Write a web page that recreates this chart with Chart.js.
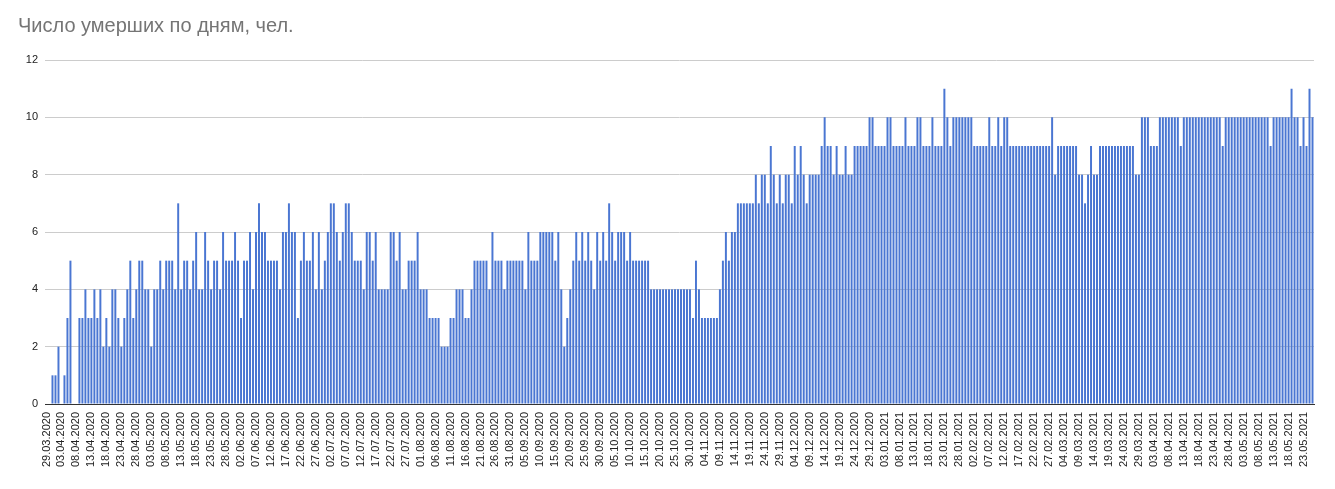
<!DOCTYPE html>
<html>
<head>
<meta charset="utf-8">
<script src="https://cdn.jsdelivr.net/npm/chart.js@4.4.1/dist/chart.umd.min.js"></script>
<style>
  html, body { margin: 0; padding: 0; background: #fff; }
  #wrap { position: relative; width: 1335px; height: 489px; }
  #chartCanvas { position: absolute; left: 0; top: 0; }
  #title {
    position: absolute; left: 18px; top: 15px;
    font: 20px "Liberation Sans", Arial, sans-serif; line-height: 20px;
    color: #757575; white-space: nowrap;
  }
</style>
</head>
<body>
<div id="wrap">
  <canvas id="chartCanvas" width="1335" height="489"></canvas>
  <div id="title">Число умерших по дням, чел.</div>
</div>
<script>
// first day of the series: 29.03.2020
const startDate = new Date(2020, 2, 29);

// deaths per day
const deaths = [
  0, 0,                                                                  // 29.03 - 30.03
  1, 1, 2, 0, 1, 3, 5, 0, 0, 3, 3, 4, 3, 3, 4, 3, 4, 2, 3, 2,            // 31.03 -
  4, 4, 3, 2, 3, 4, 5, 3, 4, 5, 5, 4, 4, 2, 4, 4,                        // - 05.05
  5, 4, 5, 5, 5, 4, 7, 4, 5, 5, 4, 5, 6, 4, 4, 6, 5, 4, 5, 5,            // 06.05 -
  4, 6, 5, 5, 5, 6, 5, 3, 5, 5, 6, 4, 6, 7, 6, 6, 5, 5, 5,               // - 13.06
  5, 4, 6, 6, 7, 6, 6, 3, 5, 6, 5, 5, 6, 4, 6, 4, 5, 6, 7, 7,            // 14.06 -
  6, 5, 6, 7, 7, 6, 5, 5, 5, 4, 6, 6, 5, 6, 4, 4, 4, 4, 6,               // - 22.07
  6, 5, 6, 4, 4, 5, 5, 5, 6, 4, 4, 4, 3, 3, 3, 3, 2, 2, 2, 3,            // 23.07 -
  3, 4, 4, 4, 3, 3, 4, 5, 5, 5, 5, 5, 4, 6, 5, 5, 5, 4, 5,               // - 30.08
  5, 5, 5, 5, 5, 4, 6, 5, 5, 5, 6, 6, 6, 6, 6, 5, 6, 4, 2, 3,            // 31.08 -
  4, 5, 6, 5, 6, 5, 6, 5, 4, 6, 5, 6, 5, 7, 6, 5, 6, 6, 6,               // - 08.10
  5, 6, 5, 5, 5, 5, 5, 5, 4, 4, 4, 4, 4, 4, 4, 4, 4, 4, 4, 4,            // 09.10 -
  4, 4, 3, 5, 4, 3, 3, 3, 3, 3, 3, 4, 5, 6, 5, 6, 6, 7, 7,               // - 16.11
  7, 7, 7, 7, 8, 7, 8, 8, 7, 9, 8, 7, 8, 7, 8, 8, 7, 9, 8, 9,            // 17.11 -
  8, 7, 8, 8, 8, 8, 9, 10, 9, 9, 8, 9, 8, 8, 9, 8, 8, 9, 9,              // - 25.12
  9, 9, 9, 10, 10, 9, 9, 9, 9, 10, 10, 9, 9, 9, 9, 10, 9, 9, 9, 10,      // 26.12 -
  10, 9, 9, 9, 10, 9, 9, 9, 11, 10, 9, 10, 10, 10, 10, 10, 10, 10, 9,    // - 02.02
  9, 9, 9, 9, 10, 9, 9, 10, 9, 10, 10, 9, 9, 9, 9, 9, 9, 9, 9, 9,        // 03.02 -
  9, 9, 9, 9, 9, 10, 8, 9, 9, 9, 9, 9, 9, 9, 8, 8, 7, 8, 9,              // - 13.03
  8, 8, 9, 9, 9, 9, 9, 9, 9, 9, 9, 9, 9, 9, 8, 8, 10, 10, 10, 9,         // 14.03 -
  9, 9, 10, 10, 10, 10, 10, 10, 10, 9, 10, 10, 10, 10, 10, 10, 10, 10, 10, // - 21.04
  10, 10, 10, 10, 9, 10, 10, 10, 10, 10, 10, 10, 10, 10, 10, 10, 10, 10,  // 22.04 -
  10, 10, 9, 10, 10, 10, 10, 10, 10, 11, 10, 10, 9, 10, 9, 11, 10         // - 26.05
];

const yTicks = [0, 2, 4, 6, 8, 10, 12];
const labelEvery = 5; // a date is written under every fifth bar

function fmt(d) {
  const dd = String(d.getDate()).padStart(2, "0");
  const mm = String(d.getMonth() + 1).padStart(2, "0");
  return dd + "." + mm + "." + d.getFullYear();
}

const days = deaths.map((_, i) => {
  const d = new Date(startDate);
  d.setDate(d.getDate() + i);
  return fmt(d);
});

const ctx = document.getElementById("chartCanvas").getContext("2d");
new Chart(ctx, {
  type: "bar",
  data: {
    labels: days,
    datasets: [{
      data: deaths,
      backgroundColor: "#4a76d2",
      borderWidth: 0,
      barPercentage: 0.66,
      categoryPercentage: 1
    }]
  },
  options: {
    responsive: false,
    animation: false,
    devicePixelRatio: 1,
    events: [],
    layout: { padding: { left: 0, right: 21, top: 60, bottom: 0 } },
    plugins: { legend: { display: false }, tooltip: { enabled: false } },
    scales: {
      x: {
        grid: { display: false, drawTicks: false },
        border: { display: true, color: "#333333", width: 1 },
        ticks: {
          autoSkip: false,
          minRotation: 90,
          maxRotation: 90,
          padding: 8,
          color: "#222222",
          font: { family: "'Liberation Sans', Arial, sans-serif", size: 11 },
          callback: (v, i) => (i % labelEvery === 0 ? days[i] : "")
        },
        afterFit: (scale) => { scale.height = 85; }
      },
      y: {
        min: yTicks[0],
        max: yTicks[yTicks.length - 1],
        afterBuildTicks: (scale) => { scale.ticks = yTicks.map((v) => ({ value: v })); },
        grid: {
          drawTicks: false,
          color: (c) => (c.tick && c.tick.value === 0 ? "#333333" : "#cccccc")
        },
        border: { display: false },
        ticks: {
          padding: 7,
          color: "#222222",
          font: { family: "'Liberation Sans', Arial, sans-serif", size: 11 }
        },
        afterFit: (scale) => { scale.width = 45; }
      }
    }
  }
});
</script>
</body>
</html>
